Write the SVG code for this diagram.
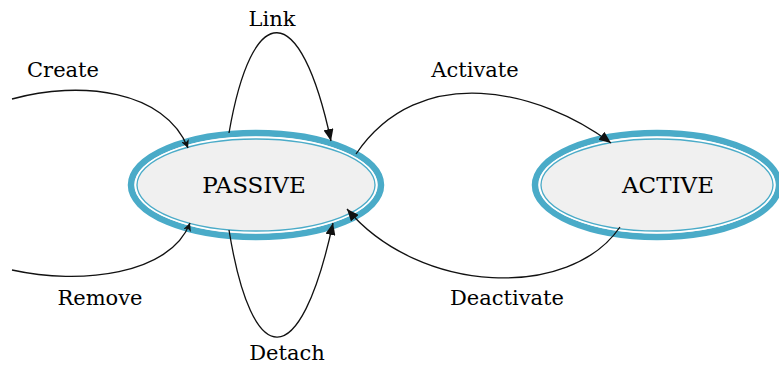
<svg xmlns="http://www.w3.org/2000/svg" width="779" height="367" viewBox="0 0 779 367">
<defs>
<style>
.ring{fill:#f0f0f0;stroke:#4aabc8;stroke-width:6.5}
.inner{fill:none;stroke:#4aabc8;stroke-width:1.3}
.gap{fill:none;stroke:#ffffff;stroke-width:2}
.edge{fill:none;stroke:#111;stroke-width:1.3}
.lbl{font-family:"DejaVu Serif","Liberation Serif",serif;font-size:21px;fill:#000;text-anchor:middle}
.nl{font-family:"DejaVu Serif","Liberation Serif",serif;font-size:23px;fill:#000;text-anchor:middle}
</style>
<marker id="big" viewBox="0 0 12 10" refX="12" refY="5" markerWidth="12" markerHeight="10" markerUnits="userSpaceOnUse" orient="auto">
<path d="M0,0 L12,5 L0,10 z" fill="#111"/>
</marker>
<marker id="small" viewBox="0 0 8 8" refX="8" refY="4" markerWidth="8" markerHeight="8" markerUnits="userSpaceOnUse" orient="auto">
<path d="M0,0 L8,4 L0,8 L2,4 z" fill="#111"/>
</marker>
</defs>
<g id="passive">
<ellipse class="ring" cx="256" cy="185" rx="125" ry="52"/>
<ellipse class="gap" cx="256" cy="185" rx="120.5" ry="47.5"/>
<ellipse class="inner" cx="256" cy="185" rx="119" ry="46"/>
<text class="nl" x="254" y="193">PASSIVE</text>
</g>
<g id="active">
<ellipse class="ring" cx="657" cy="185" rx="122" ry="52"/>
<ellipse class="gap" cx="657" cy="185" rx="117.5" ry="47.5"/>
<ellipse class="inner" cx="657" cy="185" rx="116" ry="46"/>
<text class="nl" x="668" y="193">ACTIVE</text>
</g>
<g id="connectors">
<path class="edge" d="M12,99 C80,80 165,90 188,148" marker-end="url(#small)"/>
<path class="edge" d="M12,270 C80,285 170,275 190,223" marker-end="url(#small)"/>
<path class="edge" d="M229,133 C252,0 300,-4 331,141" marker-end="url(#big)"/>
<path class="edge" d="M229,230 C252,372 300,376 333,223" marker-end="url(#big)"/>
<path class="edge" d="M356,154 C420,60 540,90 611,143" marker-end="url(#big)"/>
<path class="edge" d="M620,227 C570,300 420,295 347,209" marker-end="url(#big)"/>
</g>
<g id="labels">
<text class="lbl" x="63" y="77">Create</text>
<text class="lbl" x="272" y="26">Link</text>
<text class="lbl" x="475" y="77">Activate</text>
<text class="lbl" x="100" y="305">Remove</text>
<text class="lbl" x="287" y="360">Detach</text>
<text class="lbl" x="507" y="305">Deactivate</text>
</g>
</svg>
